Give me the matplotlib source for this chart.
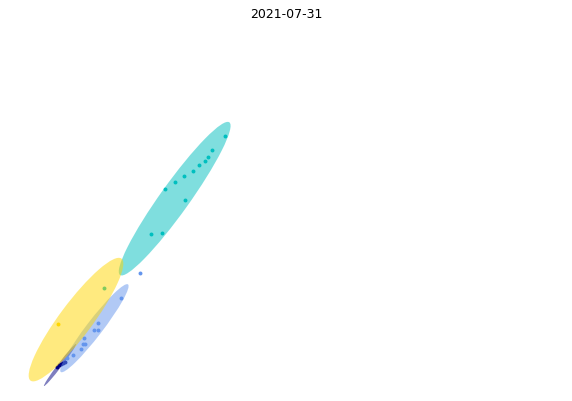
import matplotlib
matplotlib.use("Agg")
import matplotlib.pyplot as plt
from matplotlib.patches import Ellipse

title = "2021-07-31"

# groups drawn in this order
group_names = ["navy", "blue", "cyan", "yellow"]
group_colors = ["navy", "cornflowerblue", "c", "gold"]

navy_x = [14.25, 14.75, 15.33, 15.75, 16.18]
navy_y = [8.58, 9.00, 9.18, 9.58, 9.68]

blue_x = [35.08, 30.33, 24.58, 24.58, 23.50, 21.00, 20.83, 21.25, 20.25, 18.33, 16.68]
blue_y = [32.00, 25.68, 19.50, 17.75, 17.68, 15.68, 14.25, 14.13, 13.08, 11.43, 10.68]

cyan_x = [56.25, 53.08, 52.08, 51.18, 49.83, 48.33, 46.08, 43.83, 41.33, 46.33, 40.58, 37.83, 26.08]
cyan_y = [66.25, 62.75, 60.93, 60.00, 58.93, 57.43, 56.18, 54.68, 52.93, 50.18, 42.00, 41.68, 28.18]

yellow_x = [14.58]
yellow_y = [19.25]

# ellipses: centre x, centre y, major length, minor width, angle (deg)
ell_cx = [15.0, 23.6, 43.67, 19.0]
ell_cy = [9.0, 18.2, 50.58, 20.35]
ell_len = [13.2, 27.6, 46.95, 38.05]
ell_wid = [1.0, 4.0, 7.25, 8.2]
ell_ang = [52.7, 52.5, 54.4, 53.3]

xs = [navy_x, blue_x, cyan_x, yellow_x]
ys = [navy_y, blue_y, cyan_y, yellow_y]

fig = plt.figure(figsize=(5.72, 4.01), dpi=100)
ax = fig.add_axes([0, 0, 1, 0.9352])
for i, col in enumerate(group_colors):
    ax.scatter(xs[i], ys[i], s=8, color=col, linewidths=0)
    e = Ellipse((ell_cx[i], ell_cy[i]), ell_len[i], ell_wid[i], angle=ell_ang[i],
                facecolor=col, edgecolor="none", alpha=0.5)
    ax.add_patch(e)
ax.set_xlim(0, 143)
ax.set_ylim(0, 93.75)
ax.axis("off")
ax.set_title(title, fontsize=9)
fig.savefig("out.png", dpi=100)
